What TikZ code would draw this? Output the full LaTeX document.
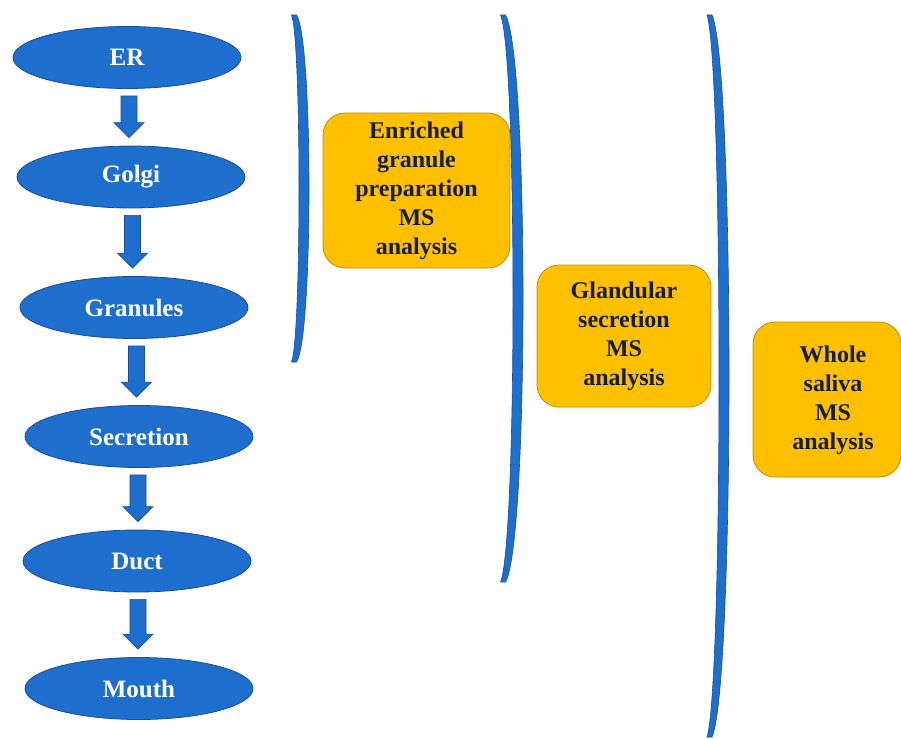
\documentclass[tikz,border=0pt]{standalone}
\usepackage{fontspec}
\setmainfont{Liberation Serif}
\usetikzlibrary{shapes.geometric,calc}
\definecolor{elblue}{RGB}{30,110,205}
\definecolor{eldark}{RGB}{28,78,150}
\definecolor{boxfill}{RGB}{255,192,0}
\definecolor{boxline}{RGB}{190,140,0}
\definecolor{navytext}{RGB}{20,30,58}
\newcommand\bracketcurve[4]{%
  \filldraw[bracketst]
    ({#1-2.5},#3) .. controls ({#1-2.5+((#2-5)-(#1-2.5))/0.75},{#3+0.07*(#4-#3)})
      and ({#1-2.5+((#2-5)-(#1-2.5))/0.75},{#4-0.07*(#4-#3)}) .. ({#1-2.5},#4)
    -- ({#1+2.5},#4)
    .. controls ({#1+2.5+((#2+5)-(#1+2.5))/0.75},{#4-0.07*(#4-#3)})
      and ({#1+2.5+((#2+5)-(#1+2.5))/0.75},{#3+0.07*(#4-#3)}) .. ({#1+2.5},#3)
    -- cycle;}
\newcommand\flowarrow[2]{%
  \coordinate (#1fm) at ($(#1.south)!0.5!(#2.north)$);
  \coordinate (#1fa) at (#1fm |- #1.south);
  \coordinate (#1fb) at (#1fm |- #2.north);
  \filldraw[flowst] ($(#1fa)+(-8,7)$) -- ($(#1fa)+(8,7)$) -- ($(#1fb)+(8,-23)$)
    -- ($(#1fb)+(15,-23)$) -- ($(#1fb)+(0,-8)$) -- ($(#1fb)+(-15,-23)$)
    -- ($(#1fb)+(-8,-23)$) -- cycle;}
\tikzset{
  stage/.style={ellipse, draw=eldark, line width=0.8pt, fill=elblue, minimum width=228pt, minimum height=62pt,
    inner sep=0pt, text=white, font=\fontsize{25}{30}\selectfont\bfseries},
  obox/.style={rectangle, rounded corners=22pt, draw=boxline, line width=0.8pt, fill=boxfill, inner sep=0pt,
    align=center, text=navytext, font=\fontsize{24}{29}\selectfont\bfseries},
  otext/.style={align=center, text=navytext, font=\fontsize{24}{29}\selectfont\bfseries, inner sep=0pt},
  flowst/.style={fill=elblue, draw=eldark, line width=0.6pt, line join=miter},
  bracketst/.style={fill=elblue, draw=eldark, line width=0.6pt, line join=round}
}
\begin{document}
\begin{tikzpicture}[x=1pt,y=-1pt]
\useasboundingbox[fill=white] (0,0) rectangle (901,738);
% stages
\node[stage] (er) at (127,57.5) {ER};
\node[stage] (golgi) at (131,177) {Golgi};
\node[stage] (gran) at (134,307.5) {Granules};
\node[stage] (secr) at (139,436.5) {Secretion};
\node[stage] (duct) at (137,561) {Duct};
\node[stage] (mouth) at (139,688.5) {Mouth};
% arrows
\flowarrow{er}{golgi}
\flowarrow{golgi}{gran}
\flowarrow{gran}{secr}
\flowarrow{secr}{duct}
\flowarrow{duct}{mouth}
% brackets
\bracketcurve{294}{304}{15}{362}
\bracketcurve{503}{518}{15}{582}
\bracketcurve{709.5}{724}{15}{737}
% boxes
\node[obox, minimum width=187pt, minimum height=155pt] (enr) at (416.5,190.5)
  {Enriched\\granule\\preparation\\MS\\analysis};
\node[obox, minimum width=174pt, minimum height=142pt] (gland) at (624,336)
  {Glandular\\secretion\\MS\\analysis};
\node[obox, minimum width=148pt, minimum height=155pt] (whole) at (827,399.5) {};
\node[otext] (wholetext) at (833,400) {Whole\\saliva\\MS\\analysis};
\end{tikzpicture}
\end{document}
